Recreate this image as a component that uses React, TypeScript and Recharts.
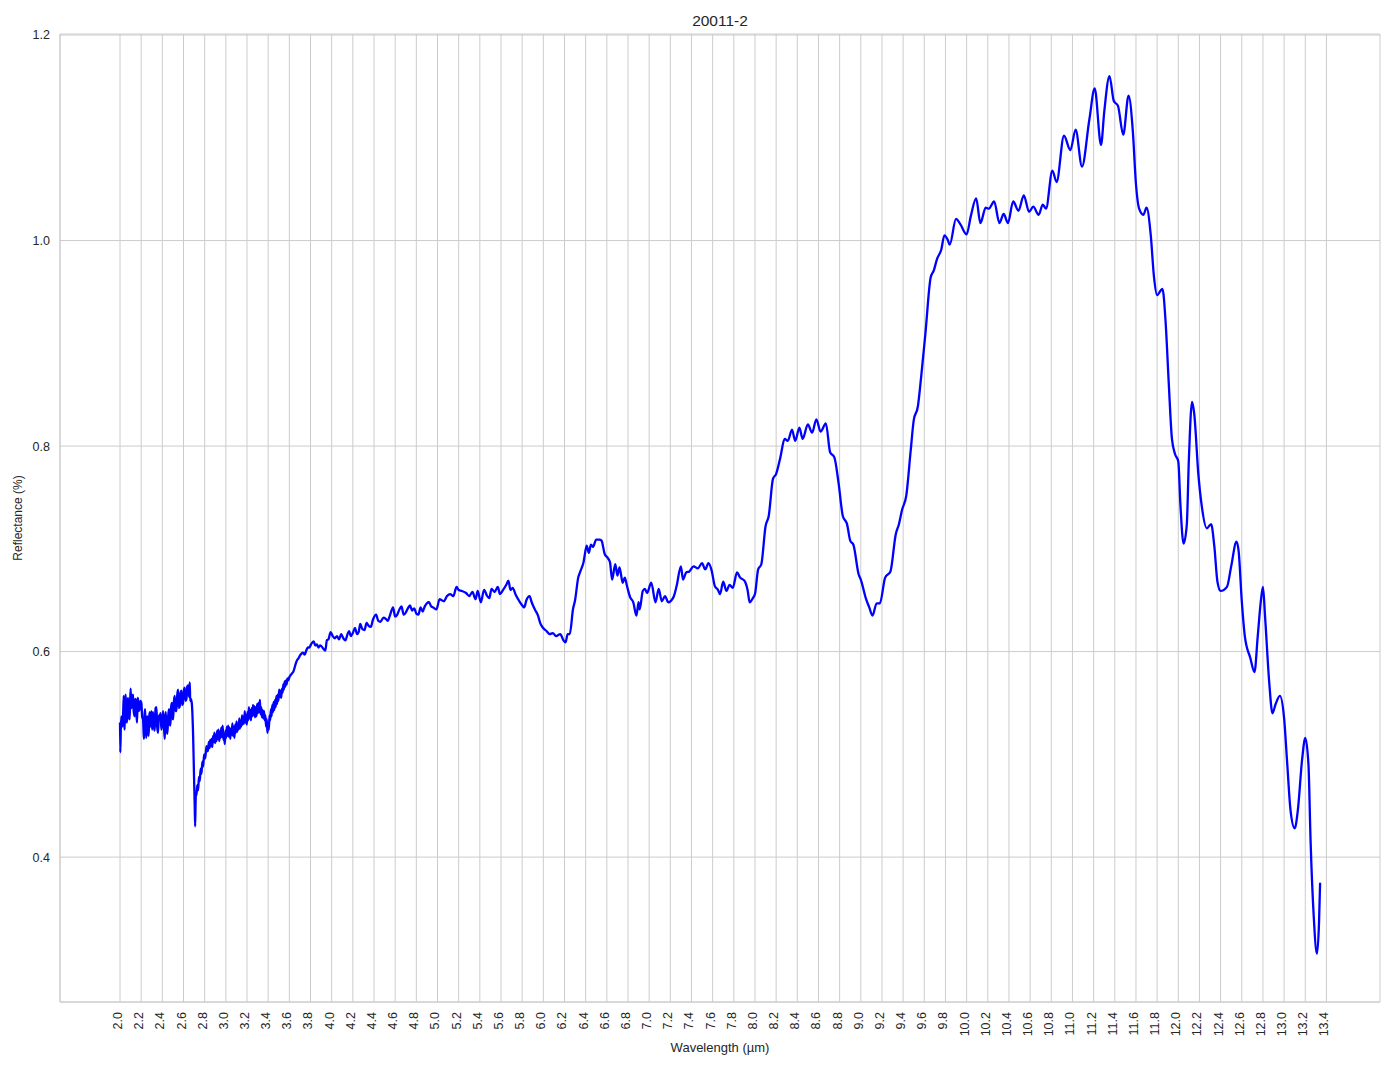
import { LineChart, Line, XAxis, YAxis, CartesianGrid, Label } from "recharts";

// spectrum, split by region (wavelength in µm, reflectance)
const wlNoisy = [
  2.0, 2.003, 2.008, 2.013, 2.02, 2.028, 2.035, 2.04, 2.044, 2.049,
  2.054, 2.06, 2.066, 2.071, 2.076, 2.083, 2.091, 2.096, 2.101, 2.106,
  2.11, 2.117, 2.123, 2.13, 2.139, 2.144, 2.148, 2.155, 2.161, 2.166,
  2.17, 2.178, 2.186, 2.193, 2.202, 2.21, 2.218, 2.223, 2.227, 2.232,
  2.237, 2.243, 2.249, 2.254, 2.259, 2.265, 2.271, 2.276, 2.281, 2.288,
  2.297, 2.304, 2.312, 2.32, 2.328, 2.336, 2.344, 2.352, 2.36, 2.367,
  2.375, 2.383, 2.391, 2.399, 2.407, 2.415, 2.423, 2.428, 2.432, 2.44,
  2.448, 2.456, 2.464, 2.47, 2.476, 2.484, 2.492, 2.497, 2.502, 2.51,
  2.517, 2.525, 2.533, 2.541, 2.549, 2.557, 2.565, 2.573, 2.58, 2.588,
  2.596, 2.604, 2.612, 2.62, 2.628, 2.636, 2.644, 2.652, 2.659, 2.664,
  2.669, 2.678, 2.691, 2.7, 2.706, 2.71, 2.714, 2.718, 2.722, 2.73,
  2.738, 2.746, 2.754, 2.762, 2.77, 2.778, 2.785, 2.795, 2.805, 2.817,
  2.83, 2.84,
];
const rfNoisy = [
  0.531, 0.502, 0.526, 0.537, 0.527, 0.534, 0.557, 0.53, 0.524, 0.552,
  0.558, 0.535, 0.531, 0.549, 0.555, 0.538, 0.534, 0.552, 0.564, 0.545,
  0.547, 0.556, 0.558, 0.541, 0.537, 0.553, 0.554, 0.54, 0.531, 0.552,
  0.555, 0.542, 0.544, 0.552, 0.55, 0.536, 0.534, 0.521, 0.515, 0.538,
  0.544, 0.525, 0.516, 0.535, 0.537, 0.522, 0.518, 0.536, 0.541, 0.527,
  0.542, 0.524, 0.541, 0.528, 0.523, 0.545, 0.546, 0.526, 0.521, 0.538,
  0.534, 0.54, 0.524, 0.53, 0.542, 0.528, 0.515, 0.534, 0.541, 0.525,
  0.52, 0.538, 0.544, 0.53, 0.528, 0.547, 0.55, 0.536, 0.534, 0.552,
  0.557, 0.542, 0.542, 0.558, 0.563, 0.545, 0.547, 0.56, 0.562, 0.548,
  0.55, 0.563, 0.565, 0.552, 0.554, 0.566, 0.567, 0.556, 0.57, 0.552,
  0.554, 0.55, 0.518, 0.476, 0.45, 0.43, 0.452, 0.463, 0.46, 0.47,
  0.465, 0.478, 0.474, 0.486, 0.481, 0.493, 0.488, 0.5, 0.496, 0.508,
  0.503, 0.512,
];

const wlRise = [
  2.846, 2.853, 2.86, 2.866, 2.872, 2.879, 2.886, 2.892, 2.899, 2.905,
  2.912, 2.918, 2.925, 2.931, 2.938, 2.944, 2.951, 2.957, 2.964, 2.97,
  2.977, 2.983, 2.99, 2.996, 3.003, 3.01, 3.016, 3.023, 3.029, 3.036,
  3.042, 3.049, 3.055, 3.062, 3.068, 3.075, 3.081, 3.088, 3.094, 3.101,
  3.107, 3.114, 3.12, 3.127, 3.133, 3.14, 3.146, 3.153, 3.159, 3.166,
  3.172, 3.179, 3.185, 3.192, 3.198, 3.205, 3.211, 3.218, 3.224, 3.231,
  3.237, 3.244, 3.25, 3.257, 3.263, 3.27, 3.276, 3.283, 3.289, 3.296,
  3.302, 3.309, 3.315, 3.322, 3.328, 3.335, 3.341, 3.348, 3.354, 3.361,
  3.367, 3.374, 3.38, 3.387, 3.393, 3.4, 3.406, 3.413, 3.419, 3.426,
  3.432, 3.439, 3.445, 3.452, 3.458, 3.465, 3.471, 3.478, 3.484, 3.491,
  3.497, 3.504, 3.51, 3.517, 3.523, 3.53, 3.536, 3.543, 3.549, 3.556,
  3.562, 3.569, 3.575, 3.582, 3.59,
];
const rfRise = [
  0.506, 0.514, 0.508, 0.515, 0.507, 0.518, 0.512, 0.521, 0.511, 0.519,
  0.513, 0.523, 0.515, 0.524, 0.513, 0.522, 0.516, 0.526, 0.517, 0.528,
  0.514, 0.52, 0.51, 0.523, 0.516, 0.527, 0.518, 0.528, 0.517, 0.526,
  0.515, 0.525, 0.519, 0.53, 0.518, 0.527, 0.516, 0.529, 0.521, 0.532,
  0.522, 0.53, 0.524, 0.535, 0.525, 0.533, 0.527, 0.538, 0.529, 0.537,
  0.53, 0.542, 0.531, 0.538, 0.529, 0.541, 0.533, 0.546, 0.535, 0.543,
  0.533, 0.545, 0.537, 0.548, 0.538, 0.547, 0.536, 0.546, 0.537, 0.549,
  0.54, 0.55, 0.541, 0.553, 0.539, 0.546, 0.536, 0.543, 0.535, 0.542,
  0.533, 0.538, 0.527, 0.534, 0.521, 0.53, 0.524, 0.538, 0.533, 0.544,
  0.537, 0.548, 0.541, 0.551, 0.543, 0.553, 0.546, 0.557, 0.549, 0.558,
  0.552, 0.563, 0.556, 0.562, 0.555, 0.564, 0.56, 0.568, 0.563, 0.571,
  0.566, 0.572, 0.568, 0.574, 0.572,
];

const wlPlateau = [
  3.6, 3.62, 3.64, 3.66, 3.67, 3.69, 3.7, 3.715, 3.73, 3.745,
  3.76, 3.775, 3.79, 3.805, 3.83, 3.845, 3.86, 3.875, 3.89, 3.905,
  3.92, 3.94, 3.955, 3.97, 3.99, 4.01, 4.03, 4.05, 4.07, 4.09,
  4.11, 4.13, 4.15, 4.165, 4.18, 4.2, 4.22, 4.24, 4.255, 4.27,
  4.29, 4.31, 4.33, 4.35, 4.37, 4.39, 4.42, 4.44, 4.46, 4.49,
  4.51, 4.53, 4.55, 4.58, 4.6, 4.62, 4.64, 4.66, 4.68, 4.7,
  4.72, 4.74, 4.76, 4.78, 4.8, 4.82, 4.84, 4.86, 4.88, 4.9,
  4.92, 4.94, 4.96, 4.99, 5.02, 5.04, 5.06, 5.09, 5.12, 5.15,
  5.18,
];
const rfPlateau = [
  0.575, 0.578, 0.581, 0.588, 0.591, 0.594, 0.596, 0.598, 0.599, 0.597,
  0.601, 0.604, 0.604, 0.607, 0.61, 0.606, 0.607, 0.604, 0.606, 0.605,
  0.603, 0.601, 0.611, 0.612, 0.619, 0.615, 0.613, 0.615, 0.612, 0.617,
  0.613, 0.611, 0.617, 0.62, 0.615, 0.618, 0.623, 0.617, 0.619, 0.627,
  0.622, 0.621, 0.628, 0.625, 0.624, 0.631, 0.636, 0.63, 0.629, 0.633,
  0.632, 0.63, 0.635, 0.643, 0.634, 0.636, 0.641, 0.644, 0.636, 0.638,
  0.642, 0.645, 0.64, 0.642, 0.637, 0.636, 0.643, 0.639, 0.644, 0.647,
  0.648, 0.644, 0.643, 0.641, 0.651, 0.65, 0.649, 0.654, 0.656, 0.654,
  0.663,
];

const wlMid = [
  5.2, 5.23, 5.27, 5.3, 5.33, 5.36, 5.38, 5.41, 5.44, 5.47,
  5.49, 5.51, 5.54, 5.57, 5.59, 5.62, 5.65, 5.67, 5.69, 5.71,
  5.74, 5.78, 5.8, 5.82, 5.84, 5.87, 5.89, 5.92, 5.95, 5.97,
  5.99, 6.03, 6.06, 6.09, 6.12, 6.16, 6.19, 6.21,
  6.23, 6.25, 6.28, 6.3, 6.33, 6.35, 6.38, 6.41, 6.43, 6.45,
  6.47, 6.5, 6.53, 6.55, 6.58, 6.61, 6.63, 6.65, 6.68, 6.7,
  6.72, 6.75, 6.77, 6.79, 6.82, 6.85, 6.88, 6.9, 6.91, 6.94,
  6.96, 6.98, 7.02, 7.06, 7.09, 7.12, 7.15, 7.18, 7.23, 7.26,
  7.3, 7.32, 7.35, 7.38, 7.42, 7.46, 7.5, 7.53, 7.56, 7.59,
  7.62, 7.65, 7.67, 7.7, 7.73, 7.76, 7.79, 7.83, 7.86, 7.9,
  7.93, 7.95, 7.98, 8.0,
];
const rfMid = [
  0.66, 0.659, 0.657, 0.654, 0.658, 0.651, 0.659, 0.648, 0.66, 0.654,
  0.652, 0.661, 0.658, 0.663, 0.656, 0.66, 0.665, 0.669, 0.66, 0.662,
  0.655, 0.648, 0.645, 0.643, 0.65, 0.654, 0.648, 0.641, 0.635, 0.628,
  0.624, 0.62, 0.617, 0.618, 0.615, 0.617, 0.611, 0.609,
  0.617, 0.617, 0.641, 0.65, 0.672, 0.678, 0.687, 0.703, 0.696, 0.704,
  0.702, 0.709, 0.709, 0.708, 0.695, 0.691, 0.687, 0.67, 0.685, 0.674,
  0.682, 0.667, 0.672, 0.664, 0.653, 0.648, 0.635, 0.648, 0.641, 0.659,
  0.661, 0.657, 0.667, 0.648, 0.661, 0.649, 0.654, 0.648, 0.653, 0.664,
  0.683, 0.67, 0.677, 0.678, 0.683, 0.681, 0.686, 0.68, 0.686, 0.679,
  0.664, 0.66, 0.656, 0.668, 0.659, 0.665, 0.662, 0.677, 0.672, 0.669,
  0.66, 0.648, 0.652, 0.656,
];

const wlBand = [
  8.03, 8.06, 8.1, 8.13, 8.17, 8.2, 8.24, 8.28, 8.31, 8.35,
  8.38, 8.42, 8.45, 8.5, 8.54, 8.58, 8.62, 8.67, 8.71, 8.75,
  8.79, 8.83, 8.87, 8.9, 8.93, 8.98, 9.0, 9.05, 9.08, 9.11,
  9.15, 9.18, 9.23, 9.28,
];
const rfBand = [
  0.68, 0.685, 0.722, 0.732, 0.768, 0.773, 0.789, 0.807, 0.805, 0.816,
  0.805, 0.818, 0.807, 0.821, 0.813, 0.826, 0.814, 0.822, 0.794, 0.789,
  0.764, 0.732, 0.724, 0.708, 0.704, 0.675, 0.67, 0.651, 0.643, 0.635,
  0.647, 0.647, 0.672, 0.678,
];

const wlLong = [
  9.33, 9.36, 9.39, 9.43, 9.47, 9.5, 9.54, 9.57, 9.61, 9.66,
  9.69, 9.72, 9.76, 9.79, 9.82, 9.84, 9.9, 9.94, 10.0, 10.04,
  10.09, 10.13, 10.18, 10.21, 10.26, 10.31, 10.35, 10.39, 10.44, 10.49,
  10.54, 10.59, 10.63, 10.68, 10.72, 10.75, 10.81, 10.85, 10.92, 10.98,
  11.03, 11.09, 11.16, 11.21, 11.27, 11.3, 11.35, 11.39, 11.43, 11.48,
  11.53, 11.57, 11.6, 11.63, 11.67, 11.7, 11.74, 11.77, 11.8, 11.85,
  11.88, 11.91, 11.94, 11.97, 12.0, 12.02, 12.05, 12.08, 12.1, 12.13,
  12.15, 12.19, 12.22, 12.27, 12.31, 12.34, 12.37, 12.4, 12.46, 12.5,
  12.55, 12.57, 12.6, 12.63, 12.68, 12.72, 12.75, 12.78, 12.8, 12.82,
  12.86, 12.89, 12.92, 12.96, 13.0, 13.03, 13.06, 13.1, 13.13, 13.17,
  13.2, 13.23, 13.25, 13.28, 13.31, 13.33, 13.34,
];
const rfLong = [
  0.714, 0.724, 0.738, 0.752, 0.794, 0.825, 0.839, 0.867, 0.909, 0.964,
  0.971, 0.982, 0.991, 1.005, 1.001, 0.996, 1.021, 1.016, 1.006, 1.024,
  1.041, 1.017, 1.032, 1.031, 1.038, 1.017, 1.026, 1.017, 1.038, 1.029,
  1.044, 1.028, 1.033, 1.025, 1.035, 1.031, 1.068, 1.057, 1.102, 1.088,
  1.108, 1.072, 1.118, 1.148, 1.093, 1.125, 1.16, 1.136, 1.131, 1.103,
  1.141, 1.107, 1.055, 1.031, 1.025, 1.032, 1.005, 0.965, 0.947, 0.953,
  0.921, 0.861, 0.807, 0.792, 0.785, 0.743, 0.705, 0.723, 0.787, 0.843,
  0.832, 0.772, 0.743, 0.72, 0.724, 0.703, 0.668, 0.659, 0.663, 0.683,
  0.707, 0.698, 0.649, 0.614, 0.594, 0.58, 0.614, 0.649, 0.663, 0.634,
  0.569, 0.54, 0.549, 0.557, 0.535, 0.49, 0.446, 0.428, 0.446, 0.495,
  0.516, 0.49, 0.416, 0.342, 0.306, 0.337, 0.375,
];

const xTicks = [
  2.0, 2.2, 2.4, 2.6, 2.8, 3.0, 3.2, 3.4, 3.6, 3.8, 4.0, 4.2, 4.4, 4.6, 4.8,
  5.0, 5.2, 5.4, 5.6, 5.8, 6.0, 6.2, 6.4, 6.6, 6.8, 7.0, 7.2, 7.4, 7.6, 7.8,
  8.0, 8.2, 8.4, 8.6, 8.8, 9.0, 9.2, 9.4, 9.6, 9.8, 10.0, 10.2, 10.4, 10.6,
  10.8, 11.0, 11.2, 11.4, 11.6, 11.8, 12.0, 12.2, 12.4, 12.6, 12.8, 13.0,
  13.2, 13.4,
];
const yTicks = [0.4, 0.6, 0.8, 1.0, 1.2];

const xDomain = [1.433, 13.906];
const yDomain = [0.259, 1.201];

const wavelength = [...wlNoisy, ...wlRise, ...wlPlateau, ...wlMid, ...wlBand, ...wlLong];
const reflectance = [...rfNoisy, ...rfRise, ...rfPlateau, ...rfMid, ...rfBand, ...rfLong];
const data = wavelength.map((w, i) => ({ w, r: reflectance[i] }));

const textColor = "#262626";
const gridColor = "#cccccc";

// rotated x tick label, end of the text sits just under the axis
const XTick = (props: any) => {
  const { x, y, payload } = props;
  return (
    <text
      x={x}
      y={y}
      transform={`rotate(-90 ${x} ${y})`}
      textAnchor="end"
      dominantBaseline="central"
      dy={-2}
      fill={textColor}
      fontSize={12.5}
    >
      {Number(payload.value).toFixed(1)}
    </text>
  );
};

export default function App() {
  return (
    <div
      style={{
        position: "absolute",
        left: 0,
        top: 0,
        width: 1394,
        height: 1069,
        background: "#fff",
        fontFamily: "'Liberation Sans', Arial, sans-serif",
      }}
    >
      <LineChart
        width={1394}
        height={1069}
        data={data}
        margin={{ top: 34, right: 14, left: 0, bottom: 0 }}
      >
        <CartesianGrid stroke={gridColor} strokeWidth={1} />
        <XAxis
          dataKey="w"
          type="number"
          domain={xDomain}
          ticks={xTicks}
          interval={0}
          allowDataOverflow
          tick={<XTick />}
          tickLine={false}
          tickSize={0}
          tickMargin={10}
          axisLine={{ stroke: gridColor }}
          height={67}
        >
          <Label
            value="Wavelength (µm)"
            position="insideBottom"
            offset={17}
            style={{ fill: textColor, fontSize: 13 }}
          />
        </XAxis>
        <XAxis
          xAxisId="top"
          dataKey="w"
          type="number"
          domain={xDomain}
          orientation="top"
          height={0}
          tick={false}
          tickLine={false}
          axisLine={{ stroke: gridColor }}
        />
        <YAxis
          type="number"
          domain={yDomain}
          ticks={yTicks}
          allowDataOverflow
          tickFormatter={(v: number) => v.toFixed(1)}
          tick={{ fill: textColor, fontSize: 12.5 }}
          tickLine={false}
          tickSize={0}
          tickMargin={10}
          axisLine={{ stroke: gridColor }}
          width={60}
        >
          <Label
            content={(props: any) => {
              const vb = props.viewBox || { x: 0, y: 34, height: 968 };
              const cx = vb.x + 18;
              const cy = vb.y + vb.height / 2;
              return (
                <text
                  x={cx}
                  y={cy}
                  transform={`rotate(-90 ${cx} ${cy})`}
                  textAnchor="middle"
                  dominantBaseline="central"
                  fill={textColor}
                  fontSize={12}
                >
                  Reflectance (%)
                </text>
              );
            }}
          />
        </YAxis>
        <YAxis
          yAxisId="right"
          type="number"
          domain={yDomain}
          orientation="right"
          width={0}
          tick={false}
          tickLine={false}
          axisLine={{ stroke: gridColor }}
        />
        <Line
          type="monotone"
          dataKey="r"
          stroke="#0000ff"
          strokeWidth={2.3}
          dot={false}
          activeDot={false}
          isAnimationActive={false}
        />
        <text x={720} y={20} textAnchor="middle" dominantBaseline="central" fill={textColor} fontSize={15.5}>
          20011-2
        </text>
      </LineChart>
    </div>
  );
}
